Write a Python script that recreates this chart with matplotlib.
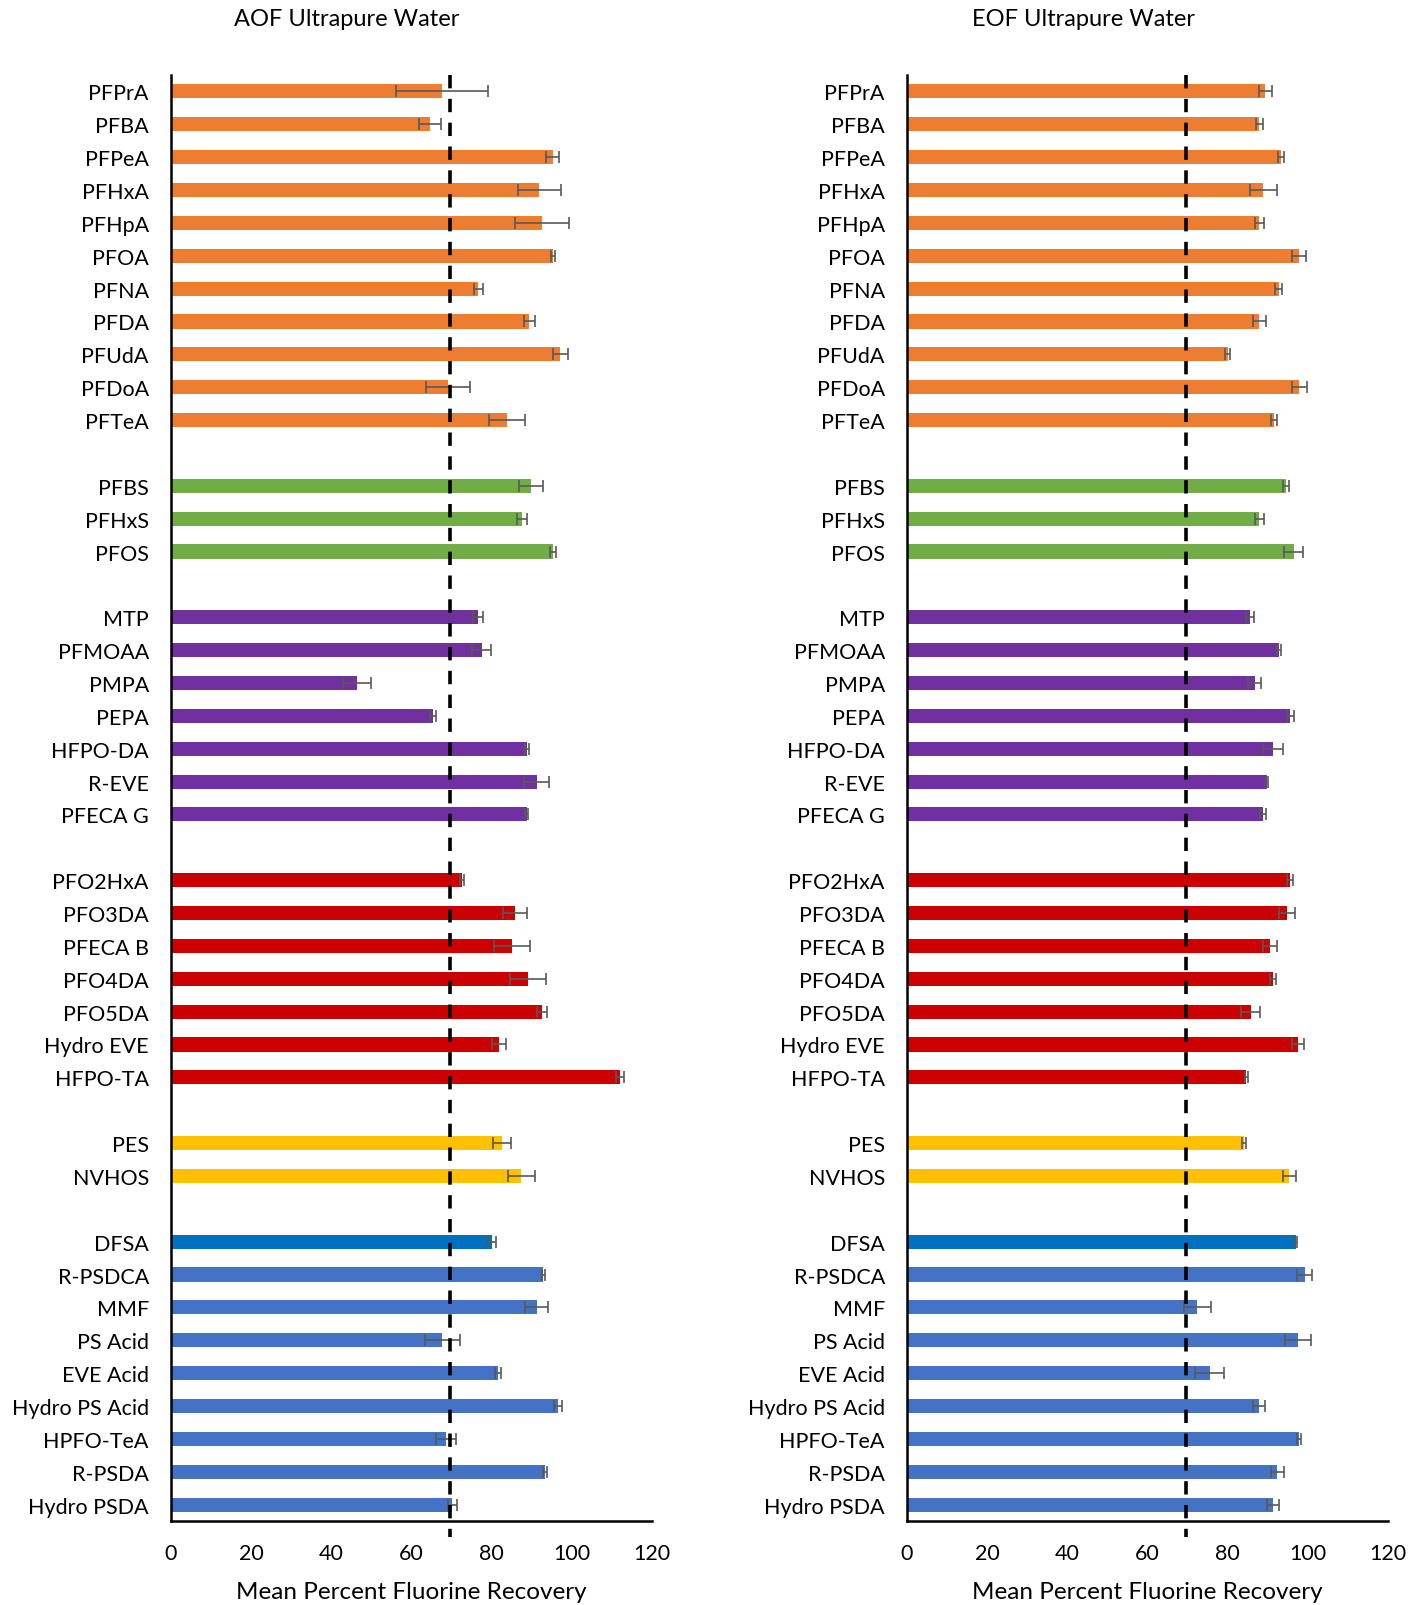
import numpy as np
import matplotlib.pyplot as plt

plt.rcParams['font.family'] = ['Lato', 'DejaVu Sans']

# compound groups (top to bottom), blank slot between groups
groups = [
    ['PFPrA', 'PFBA', 'PFPeA', 'PFHxA', 'PFHpA', 'PFOA', 'PFNA', 'PFDA', 'PFUdA', 'PFDoA', 'PFTeA'],
    ['PFBS', 'PFHxS', 'PFOS'],
    ['MTP', 'PFMOAA', 'PMPA', 'PEPA', 'HFPO-DA', 'R-EVE', 'PFECA G'],
    ['PFO2HxA', 'PFO3DA', 'PFECA B', 'PFO4DA', 'PFO5DA', 'Hydro EVE', 'HFPO-TA'],
    ['PES', 'NVHOS'],
    ['DFSA', 'R-PSDCA', 'MMF', 'PS Acid', 'EVE Acid', 'Hydro PS Acid', 'HPFO-TeA', 'R-PSDA', 'Hydro PSDA'],
]
group_colors = ['#ED7D31', '#70AD47', '#7030A0', '#CC0000', '#FFC000', '#4472C4']
dfsa_color = '#0070C0'

# AOF ultrapure water
aof_mean = [67.7, 64.6, 95.2, 91.9, 92.6, 95.3, 76.7, 89.4, 97.1, 69.2, 83.8,
            89.7, 87.6, 95.3,
            76.6, 77.5, 46.3, 65.3, 88.9, 91.2, 88.7,
            72.7, 85.8, 85.1, 89.1, 92.5, 81.9, 112.1,
            82.6, 87.4,
            80.0, 92.9, 91.2, 67.7, 81.6, 96.6, 68.6, 93.3, 70.2]
aof_err = [11.5, 2.7, 1.6, 5.4, 6.7, 0.6, 1.1, 1.4, 1.9, 5.5, 4.4,
           3.0, 1.3, 0.7,
           1.3, 2.4, 3.5, 0.8, 0.5, 3.2, 0.4,
           0.5, 2.9, 4.4, 4.5, 1.3, 1.8, 1.0,
           2.2, 3.4,
           1.0, 0.3, 2.8, 4.4, 0.7, 1.0, 2.4, 0.6, 1.2]

# EOF ultrapure water
eof_mean = [89.4, 87.9, 93.3, 88.9, 87.9, 97.8, 92.7, 87.9, 80.0, 97.9, 91.6,
            94.6, 87.9, 96.5,
            85.6, 92.8, 86.7, 95.6, 91.3, 89.8, 88.8,
            95.6, 94.8, 90.6, 91.3, 85.7, 97.5, 84.6,
            84.0, 95.4,
            97.1, 99.2, 72.4, 97.6, 75.5, 87.7, 97.7, 92.4, 91.4]
eof_err = [1.7, 0.8, 0.8, 3.3, 1.1, 1.7, 0.8, 1.7, 0.6, 1.8, 0.7,
           0.8, 1.2, 2.4,
           1.0, 0.4, 1.7, 0.9, 2.5, 0.3, 0.7,
           0.7, 1.9, 1.7, 0.8, 2.3, 1.5, 0.4,
           0.5, 1.6,
           0.3, 1.8, 3.4, 3.3, 3.6, 1.5, 0.5, 1.7, 1.5]

target = 69.5

# slot positions with one empty slot between groups
labels, pos, colors = [], [], []
slot = 0
for g, c in zip(groups, group_colors):
    for name in g:
        labels.append(name)
        pos.append(slot)
        colors.append(dfsa_color if name == 'DFSA' else c)
        slot += 1
    slot += 1
last = pos[-1]
pos = np.array(pos)

fig = plt.figure(figsize=(14.24, 16.06), dpi=100)
W, H = 1424, 1606
ax_l = fig.add_axes([171 / W, 1 - 1522 / H, 481 / W, (1522 - 76) / H])
ax_r = fig.add_axes([907 / W, 1 - 1522 / H, 481 / W, (1522 - 76) / H])


def draw(ax, mean, err, title, title_x):
    ax.barh(pos, mean, height=0.43, color=colors, zorder=2)
    ax.errorbar(mean, pos, xerr=err, fmt='none', ecolor='#595959',
                elinewidth=1.2, capsize=4, capthick=1.2, zorder=3)
    ax.plot([target, target], [-0.5, last + 1.0], color='black', lw=2.6,
            dashes=(3.7, 2.9), clip_on=False, zorder=4)
    ax.set_xlim(0, 120)
    ax.set_ylim(last + 0.5, -0.5)
    ax.set_xticks(range(0, 121, 20))
    ax.set_yticks(pos)
    ax.set_yticklabels(labels)
    ax.tick_params(axis='y', length=0, pad=16, labelsize=15.5, colors='black')
    ax.tick_params(axis='x', length=0, pad=16, labelsize=15.5)
    for s in ['top', 'right']:
        ax.spines[s].set_visible(False)
    ax.spines['left'].set_linewidth(1.8)
    ax.spines['bottom'].set_linewidth(1.8)
    ax.set_xlabel('Mean Percent Fluorine Recovery', fontsize=17.5, labelpad=13)
    fig.text(title_x / W, 1 - 20 / H, title, ha='center', va='center', fontsize=17)


draw(ax_l, aof_mean, aof_err, 'AOF Ultrapure Water', 347)
draw(ax_r, eof_mean, eof_err, 'EOF Ultrapure Water', 1084)

fig.savefig('out.png', dpi=100)
